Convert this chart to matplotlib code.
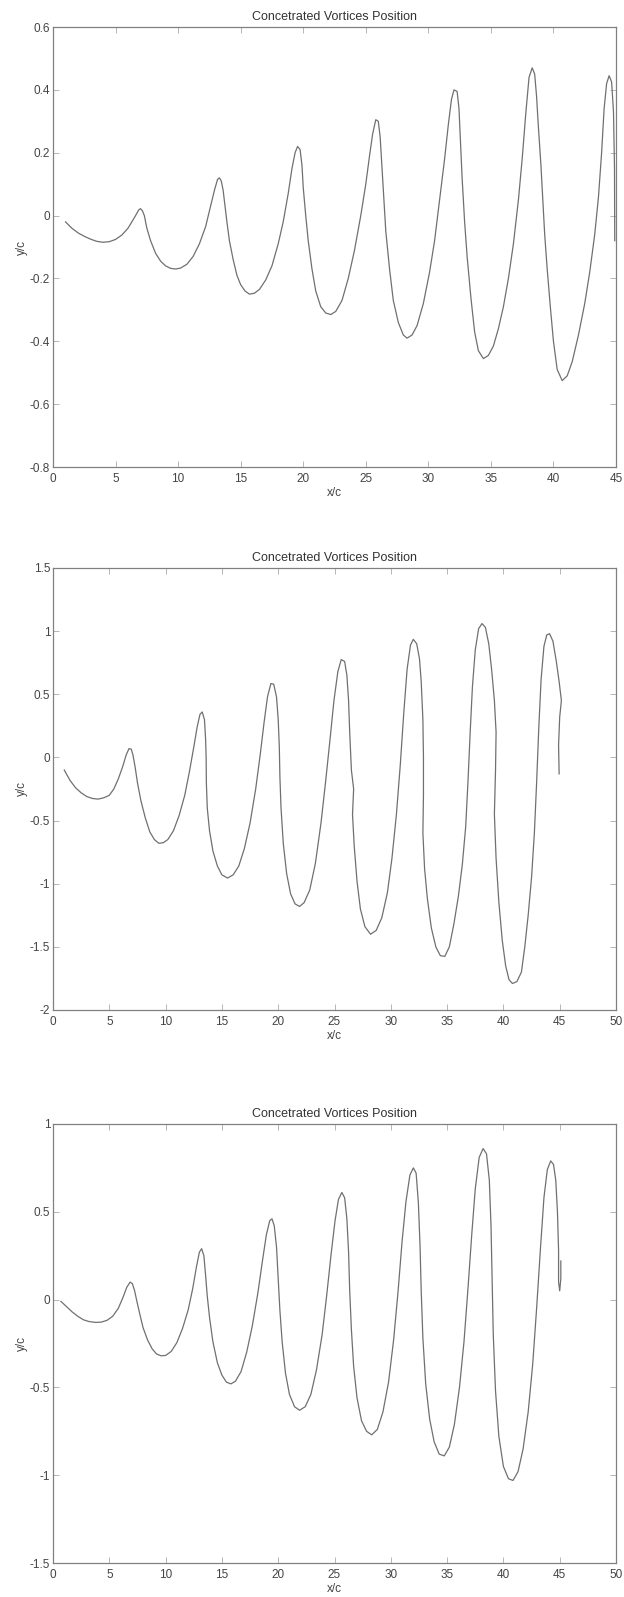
import matplotlib
matplotlib.use("Agg")
import matplotlib.pyplot as plt
import numpy as np

plt.rcParams['font.family'] = ['Liberation Sans', 'DejaVu Sans']

title = "Concetrated Vortices Position"
xlabel = "x/c"
ylabel = "y/c"

# Panel 1 trajectory (x/c, y/c)
pts1 = [(1.0, -0.02), (1.5, -0.04), (2.0, -0.055), (2.5, -0.066), (3.0, -0.075), (3.5, -0.082), (4.0, -0.085),
        (4.5, -0.083), (5.0, -0.076), (5.5, -0.062), (6.0, -0.04), (6.3, -0.02), (6.6, 0.0), (6.85, 0.018),
        (7.0, 0.022), (7.15, 0.015), (7.3, 0.0), (7.5, -0.04), (7.8, -0.08), (8.2, -0.12), (8.6, -0.145),
        (9.0, -0.16), (9.4, -0.168), (9.8, -0.17), (10.2, -0.167), (10.7, -0.155), (11.2, -0.13), (11.7, -0.09),
        (12.2, -0.035), (12.6, 0.03), (12.9, 0.08), (13.15, 0.115), (13.3, 0.12), (13.45, 0.11), (13.6, 0.08),
        (13.75, 0.03), (13.9, -0.02), (14.1, -0.08), (14.4, -0.14), (14.7, -0.19), (15.0, -0.22), (15.35, -0.24),
        (15.7, -0.25), (16.1, -0.247), (16.5, -0.235), (17.0, -0.205), (17.5, -0.16), (18.0, -0.09),
        (18.4, -0.02), (18.8, 0.07), (19.1, 0.15), (19.35, 0.2), (19.55, 0.22), (19.75, 0.21), (19.9, 0.16),
        (20.0, 0.09), (20.2, 0.0), (20.4, -0.08), (20.7, -0.17), (21.0, -0.24), (21.4, -0.29), (21.8, -0.31),
        (22.2, -0.315), (22.6, -0.305), (23.1, -0.27), (23.6, -0.2), (24.1, -0.11), (24.6, 0.0), (25.0, 0.1),
        (25.3, 0.19), (25.55, 0.26), (25.8, 0.305), (26.0, 0.30), (26.15, 0.25), (26.3, 0.15), (26.45, 0.05),
        (26.6, -0.05), (26.9, -0.17), (27.2, -0.27), (27.6, -0.34), (28.0, -0.38), (28.3, -0.39), (28.7, -0.38),
        (29.1, -0.35), (29.6, -0.28), (30.1, -0.18), (30.5, -0.08), (30.9, 0.05), (31.3, 0.18), (31.6, 0.29),
        (31.85, 0.37), (32.05, 0.40), (32.3, 0.395), (32.45, 0.34), (32.55, 0.25), (32.7, 0.12), (32.9, -0.02),
        (33.1, -0.13), (33.4, -0.26), (33.7, -0.37), (34.0, -0.43), (34.4, -0.455), (34.8, -0.445),
        (35.2, -0.415), (35.6, -0.36), (36.0, -0.29), (36.4, -0.2), (36.8, -0.09), (37.2, 0.05), (37.5, 0.18),
        (37.8, 0.33), (38.05, 0.44), (38.3, 0.47), (38.5, 0.45), (38.65, 0.38), (38.8, 0.28), (39.0, 0.16),
        (39.15, 0.05), (39.3, -0.06), (39.5, -0.17), (39.75, -0.29), (40.0, -0.4), (40.3, -0.49), (40.7, -0.525),
        (41.1, -0.51), (41.5, -0.465), (42.0, -0.38), (42.5, -0.28), (42.9, -0.18), (43.3, -0.06), (43.6, 0.06),
        (43.85, 0.2), (44.05, 0.34), (44.25, 0.42), (44.45, 0.445), (44.65, 0.425), (44.8, 0.33), (44.88, 0.15),
        (44.9, -0.08)]

# Panel 2 trajectory
pts2 = [(1.0, -0.10), (1.5, -0.18), (2.0, -0.24), (2.5, -0.28), (3.0, -0.31), (3.5, -0.325), (4.0, -0.33),
        (4.5, -0.32), (5.0, -0.30), (5.4, -0.25), (5.8, -0.17), (6.2, -0.07), (6.5, 0.02), (6.75, 0.07),
        (6.95, 0.065), (7.1, 0.02), (7.3, -0.08), (7.5, -0.2), (7.8, -0.34), (8.2, -0.48), (8.6, -0.59),
        (9.0, -0.65), (9.4, -0.68), (9.8, -0.675), (10.2, -0.65), (10.7, -0.58), (11.2, -0.46), (11.7, -0.3),
        (12.1, -0.12), (12.5, 0.08), (12.8, 0.24), (13.05, 0.34), (13.25, 0.36), (13.45, 0.3), (13.55, 0.15),
        (13.6, 0.0), (13.62, -0.2), (13.7, -0.4), (13.9, -0.58), (14.2, -0.74), (14.6, -0.86), (15.0, -0.93),
        (15.5, -0.955), (16.0, -0.93), (16.5, -0.86), (17.0, -0.72), (17.5, -0.52), (18.0, -0.25), (18.4, 0.02),
        (18.75, 0.28), (19.05, 0.48), (19.35, 0.585), (19.6, 0.58), (19.85, 0.48), (20.0, 0.3), (20.1, 0.08),
        (20.15, -0.15), (20.25, -0.4), (20.45, -0.68), (20.75, -0.92), (21.1, -1.08), (21.5, -1.16),
        (21.9, -1.18), (22.3, -1.15), (22.8, -1.05), (23.3, -0.84), (23.8, -0.52), (24.2, -0.2), (24.6, 0.14),
        (24.95, 0.45), (25.3, 0.68), (25.6, 0.775), (25.9, 0.76), (26.1, 0.65), (26.25, 0.45), (26.35, 0.2),
        (26.45, 0.0), (26.5, -0.1), (26.7, -0.25), (26.6, -0.45), (26.75, -0.7), (27.0, -0.98), (27.3, -1.2),
        (27.7, -1.34), (28.2, -1.40), (28.7, -1.37), (29.2, -1.27), (29.7, -1.07), (30.1, -0.8), (30.5, -0.45),
        (30.85, -0.05), (31.15, 0.35), (31.45, 0.7), (31.75, 0.89), (32.0, 0.935), (32.3, 0.9), (32.55, 0.78),
        (32.7, 0.6), (32.85, 0.3), (32.9, 0.0), (32.9, -0.3), (32.85, -0.6), (33.0, -0.88), (33.25, -1.12),
        (33.6, -1.35), (34.0, -1.5), (34.4, -1.57), (34.8, -1.575), (35.2, -1.5), (35.6, -1.32), (36.0, -1.1),
        (36.35, -0.85), (36.65, -0.55), (36.85, -0.2), (37.05, 0.2), (37.25, 0.56), (37.5, 0.85), (37.8, 1.02),
        (38.1, 1.06), (38.4, 1.03), (38.7, 0.9), (38.95, 0.7), (39.2, 0.45), (39.35, 0.2), (39.3, -0.1),
        (39.2, -0.45), (39.35, -0.8), (39.6, -1.15), (39.9, -1.45), (40.2, -1.65), (40.5, -1.76), (40.8, -1.79),
        (41.2, -1.775), (41.6, -1.7), (41.9, -1.5), (42.2, -1.25), (42.5, -0.95), (42.75, -0.6), (42.95, -0.2),
        (43.15, 0.25), (43.35, 0.62), (43.6, 0.88), (43.85, 0.97), (44.1, 0.98), (44.4, 0.92), (44.7, 0.76),
        (44.95, 0.6), (45.15, 0.45), (45.0, 0.32), (44.9, 0.1), (44.95, -0.13)]

# Panel 3 trajectory
pts3 = [(0.7, -0.01), (1.2, -0.04), (1.7, -0.07), (2.2, -0.095), (2.7, -0.115), (3.2, -0.125), (3.8, -0.13),
        (4.3, -0.128), (4.8, -0.118), (5.3, -0.095), (5.8, -0.05), (6.2, 0.01), (6.55, 0.07), (6.85, 0.10),
        (7.05, 0.09), (7.25, 0.05), (7.45, -0.01), (7.7, -0.08), (8.0, -0.16), (8.4, -0.23), (8.8, -0.28),
        (9.2, -0.31), (9.6, -0.32), (10.0, -0.318), (10.5, -0.295), (11.0, -0.245), (11.5, -0.165), (12.0, -0.06),
        (12.4, 0.06), (12.75, 0.19), (13.0, 0.27), (13.2, 0.29), (13.4, 0.25), (13.55, 0.14), (13.7, 0.02),
        (13.9, -0.1), (14.2, -0.24), (14.6, -0.36), (15.0, -0.43), (15.4, -0.47), (15.8, -0.48), (16.2, -0.465),
        (16.7, -0.41), (17.2, -0.3), (17.7, -0.15), (18.2, 0.04), (18.6, 0.22), (18.95, 0.37), (19.25, 0.45),
        (19.45, 0.46), (19.65, 0.42), (19.85, 0.3), (20.0, 0.12), (20.15, -0.06), (20.35, -0.24), (20.65, -0.42),
        (21.0, -0.54), (21.45, -0.61), (21.9, -0.63), (22.4, -0.61), (22.9, -0.54), (23.4, -0.4), (23.9, -0.2),
        (24.3, 0.02), (24.7, 0.26), (25.05, 0.45), (25.35, 0.57), (25.65, 0.61), (25.9, 0.58), (26.1, 0.46),
        (26.25, 0.27), (26.35, 0.05), (26.5, -0.17), (26.7, -0.38), (27.0, -0.56), (27.4, -0.69), (27.85, -0.75),
        (28.3, -0.77), (28.8, -0.74), (29.3, -0.64), (29.8, -0.47), (30.25, -0.23), (30.65, 0.05), (31.0, 0.33),
        (31.35, 0.56), (31.7, 0.71), (32.0, 0.75), (32.25, 0.72), (32.45, 0.55), (32.6, 0.3), (32.7, 0.05),
        (32.85, -0.22), (33.1, -0.48), (33.45, -0.68), (33.85, -0.81), (34.3, -0.88), (34.75, -0.89),
        (35.2, -0.84), (35.65, -0.71), (36.1, -0.5), (36.5, -0.24), (36.85, 0.06), (37.2, 0.38), (37.5, 0.63),
        (37.85, 0.81), (38.2, 0.86), (38.5, 0.83), (38.75, 0.68), (38.9, 0.42), (39.0, 0.12), (39.1, -0.2),
        (39.3, -0.52), (39.6, -0.78), (40.0, -0.95), (40.45, -1.02), (40.85, -1.03), (41.3, -0.98),
        (41.75, -0.85), (42.2, -0.64), (42.6, -0.37), (42.95, -0.05), (43.3, 0.3), (43.6, 0.58), (43.9, 0.74),
        (44.2, 0.79), (44.45, 0.77), (44.65, 0.68), (44.8, 0.5), (44.9, 0.28), (44.9, 0.1), (45.0, 0.05),
        (45.1, 0.12), (45.1, 0.22)]

x1, y1 = zip(*pts1)
x2, y2 = zip(*pts2)
x3, y3 = zip(*pts3)

panels = [
    (x1, y1, (0, 45), np.arange(0, 46, 5), (-0.8, 0.6), [-0.8, -0.6, -0.4, -0.2, 0, 0.2, 0.4, 0.6],
     ['-0.8', '-0.6', '-0.4', '-0.2', '0', '0.2', '0.4', '0.6']),
    (x2, y2, (0, 50), np.arange(0, 51, 5), (-2, 1.5), [-2, -1.5, -1, -0.5, 0, 0.5, 1, 1.5],
     ['-2', '-1.5', '-1', '-0.5', '0', '0.5', '1', '1.5']),
    (x3, y3, (0, 50), np.arange(0, 51, 5), (-1.5, 1), [-1.5, -1, -0.5, 0, 0.5, 1],
     ['-1.5', '-1', '-0.5', '0', '0.5', '1']),
]

W, H = 624, 1597
fig = plt.figure(figsize=(W / 100, H / 100), dpi=100)
boxes = [(27, 467), (568, 1010), (1124, 1563)]
left, right = 53, 616
for (xs, ys, xl, xt, yl, yt, ytl), (top, bot) in zip(panels, boxes):
    ax = fig.add_axes([left / W, 1 - bot / H, (right - left) / W, (bot - top) / H])
    ax.plot(xs, ys, color='#707070', lw=0.9)
    ax.set_xlim(*xl)
    ax.set_ylim(*yl)
    ax.set_xticks(xt)
    ax.set_xticklabels([str(v) for v in xt])
    ax.set_yticks(yt)
    ax.set_yticklabels(ytl)
    ax.tick_params(direction='in', top=True, right=True, length=4, width=0.6, colors='#aaaaaa',
                   labelcolor='#444444', labelsize=8.5, pad=2)
    ax.tick_params(axis='x', pad=4)
    for s in ax.spines.values():
        s.set_color('#808080')
        s.set_linewidth(0.9)
    ax.set_title(title, fontsize=9, color='#333333', pad=5)
    ax.set_xlabel(xlabel, fontsize=8.5, color='#444444', labelpad=2)
    ax.set_ylabel(ylabel, fontsize=8.5, color='#444444', labelpad=1)

fig.savefig('out.png', dpi=100)
